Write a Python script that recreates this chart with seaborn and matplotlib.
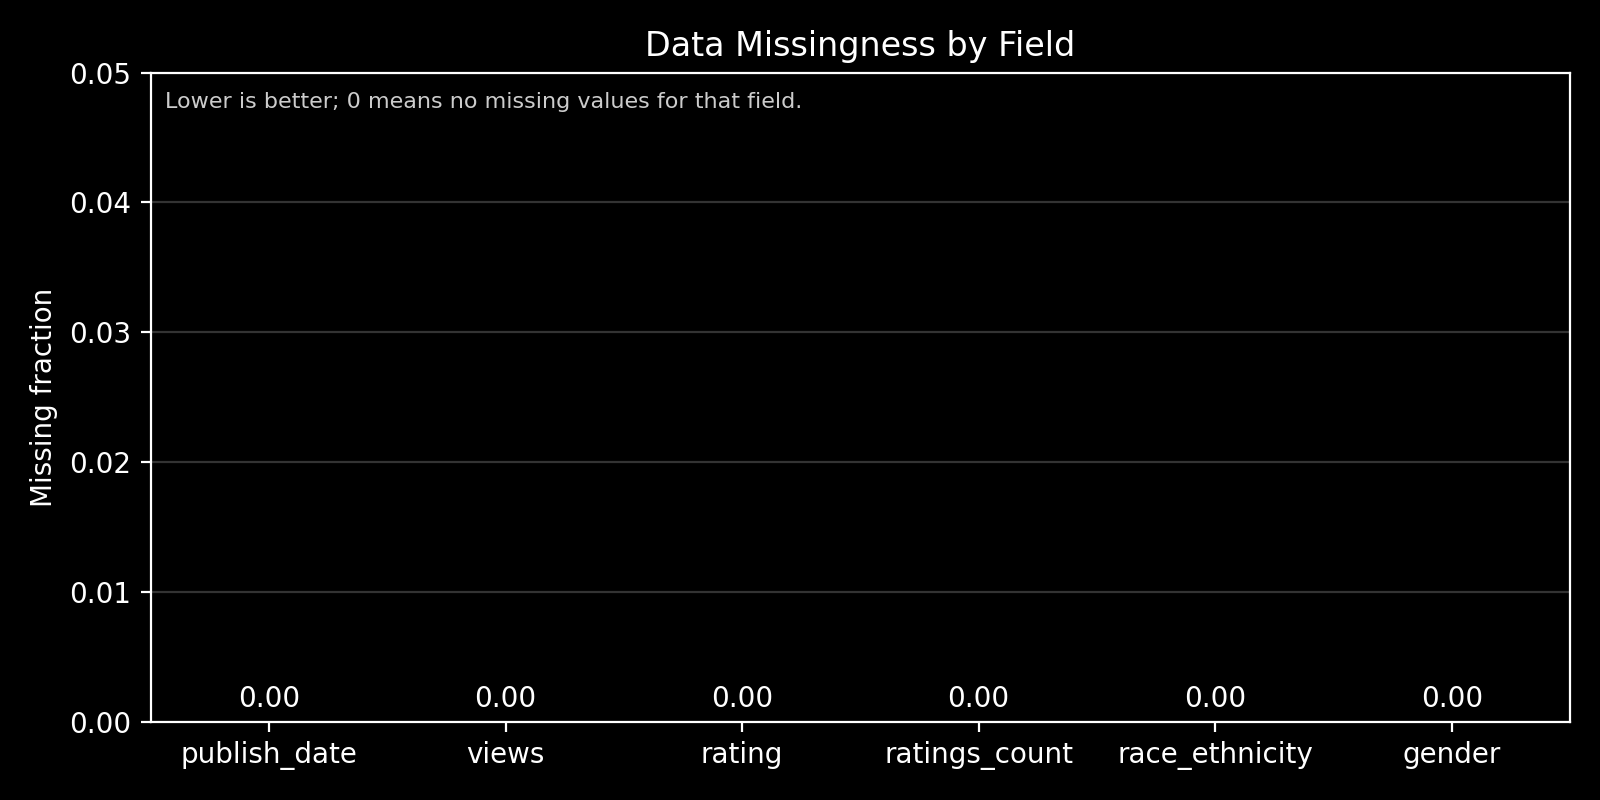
import matplotlib
matplotlib.use("Agg")
import matplotlib.pyplot as plt
import seaborn as sns
import pandas as pd

fields = ["publish_date", "views", "rating", "ratings_count", "race_ethnicity", "gender"]
missing = [0.0, 0.0, 0.0, 0.0, 0.0, 0.0]

df = pd.DataFrame({"field": fields, "missing": missing})

plt.style.use("dark_background")
fig, ax = plt.subplots(figsize=(8, 4), dpi=200)
fig.patch.set_facecolor("black")
ax.set_facecolor("black")

sns.barplot(data=df, x="field", y="missing", color="#4c9be8", ax=ax)

ax.set_ylim(0, 0.05)
ax.set_yticks([0, 0.01, 0.02, 0.03, 0.04, 0.05])
ax.yaxis.grid(True, color="#333333", linewidth=0.8)
ax.set_axisbelow(True)
ax.set_title("Data Missingness by Field", fontsize=12)
ax.set_xlabel("")
ax.set_ylabel("Missing fraction")
for sp in ax.spines.values():
    sp.set_color("white")

# value labels over each bar
for i, v in enumerate(missing):
    ax.annotate(f"{v:.2f}", xy=(i, v), xytext=(0, 3), textcoords="offset points",
                ha="center", va="bottom", fontsize=10, color="white")

ax.text(0.01, 0.97, "Lower is better; 0 means no missing values for that field.",
        transform=ax.transAxes, fontsize=8, color="#cccccc", va="top", ha="left")

fig.tight_layout()
fig.savefig("out.png", facecolor="black")
